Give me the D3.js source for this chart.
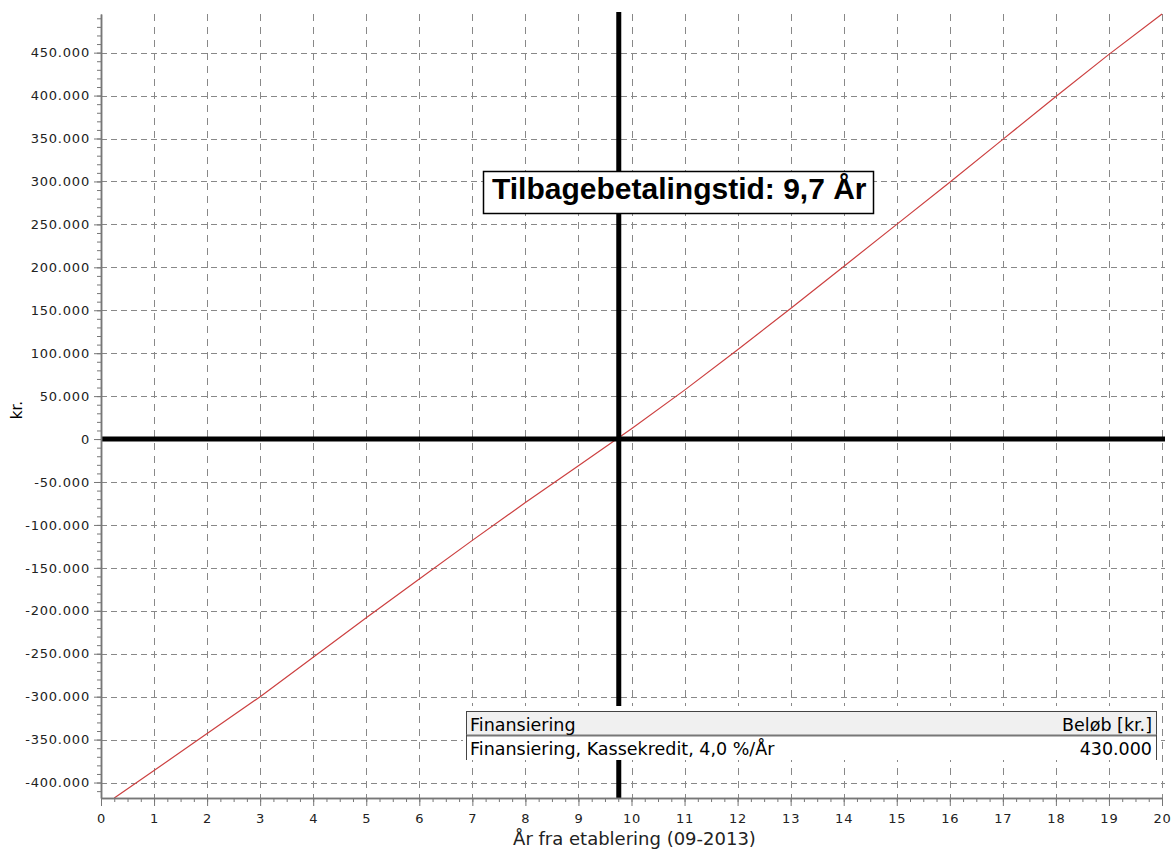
<!DOCTYPE html>
<html>
<head>
<meta charset="utf-8">
<script src="https://cdnjs.cloudflare.com/ajax/libs/d3/7.8.5/d3.min.js"></script>
<style>
body { margin: 0; background: #fff; }
</style>
</head>
<body>
<script>
// cumulative balance
var years   = [0.25, 1, 2, 3, 4, 5, 6, 7, 8, 9, 10, 11, 12, 13, 14, 15, 16, 17, 18, 19, 20];
var balance = [-418000, -386000, -343000, -300000, -254000, -208000, -163000, -118000, -74000, -31000,
               12000, 57000, 104000, 152000, 201000, 250000, 299000, 349000, 399000, 448000, 495000];
var yTicks = [-400000, -350000, -300000, -250000, -200000, -150000, -100000, -50000, 0,
              50000, 100000, 150000, 200000, 250000, 300000, 350000, 400000, 450000];
var xTicks = [0, 1, 2, 3, 4, 5, 6, 7, 8, 9, 10, 11, 12, 13, 14, 15, 16, 17, 18, 19, 20];
var paybackYear = 9.76;
var paybackLabel = "Tilbagebetalingstid: 9,7 År";
var tableHeader = ["Finansiering", "Beløb [kr.]"];
var tableRows = [["Finansiering, Kassekredit, 4,0 %/År", "430.000"]];
var xTitle = "År fra etablering (09-2013)";
var yTitle = "kr.";

var width = 1173, height = 850;
var plotLeft = 101, plotRight = 1162, plotTop = 14, plotBottom = 798;

var dk = d3.formatLocale({decimal: ",", thousands: ".", grouping: [3], currency: ["", " kr."], minus: "-"});
var fmt = dk.format(",d");

var x = d3.scaleLinear().domain([0, 20]).range([plotLeft, plotRight]);
var y = d3.scaleLinear().domain(d3.extent(balance)).range([plotBottom, plotTop]);

var body = d3.select("body");
var svg = body.append("svg")
    .attr("width", width)
    .attr("height", height);

// grid
svg.append("g").selectAll("line")
    .data(xTicks.filter(function(d) { return d > 0; }))
    .join("line")
    .attr("x1", function(d) { return Math.round(x(d)) + 0.5; })
    .attr("x2", function(d) { return Math.round(x(d)) + 0.5; })
    .attr("y1", plotTop).attr("y2", plotBottom)
    .attr("stroke", "#888").attr("stroke-dasharray", "7,6");

svg.append("g").selectAll("line")
    .data(yTicks.filter(function(d) { return d != 0; }))
    .join("line")
    .attr("y1", function(d) { return Math.round(y(d)) + 0.5; })
    .attr("y2", function(d) { return Math.round(y(d)) + 0.5; })
    .attr("x1", plotLeft).attr("x2", plotRight + 3)
    .attr("stroke", "#888").attr("stroke-dasharray", "6,4");

// series
var line = d3.line()
    .x(function(d, i) { return x(years[i]); })
    .y(function(d) { return y(d); });

svg.append("path")
    .datum(balance)
    .attr("d", line)
    .attr("fill", "none")
    .attr("stroke", "#cc4040")
    .attr("stroke-width", 1.2);

// zero line and payback line
svg.append("line")
    .attr("x1", plotLeft).attr("x2", plotRight + 3)
    .attr("y1", y(0)).attr("y2", y(0))
    .attr("stroke", "#000").attr("stroke-width", 5);

svg.append("line")
    .attr("x1", x(paybackYear)).attr("x2", x(paybackYear))
    .attr("y1", plotTop - 2).attr("y2", plotBottom)
    .attr("stroke", "#000").attr("stroke-width", 5);

// axes
svg.append("g")
    .attr("transform", "translate(" + plotLeft + ",0)")
    .call(d3.axisLeft(y).tickValues(yTicks).tickFormat(fmt).tickSize(7).tickSizeOuter(0).tickPadding(4));
svg.append("g")
    .attr("transform", "translate(" + plotLeft + ",0)")
    .call(d3.axisLeft(y).tickValues(d3.range(-410000, 495000, 10000)).tickFormat("").tickSize(4).tickSizeOuter(0));

svg.append("g")
    .attr("transform", "translate(0," + plotBottom + ")")
    .call(d3.axisBottom(x).tickValues(xTicks).tickFormat(d3.format("d")).tickSize(8).tickSizeOuter(0).tickPadding(8));
svg.append("g")
    .attr("transform", "translate(0," + plotBottom + ")")
    .call(d3.axisBottom(x).tickValues(d3.range(0, 20.01, 0.25)).tickFormat("").tickSize(4).tickSizeOuter(0));

svg.selectAll(".domain").attr("stroke", "#777").attr("stroke-width", 1.5);
svg.selectAll(".tick line").attr("stroke", "#777");
svg.selectAll(".tick text")
    .attr("font-family", "'DejaVu Sans', sans-serif")
    .attr("font-size", 13)
    .attr("letter-spacing", 0.8)
    .attr("fill", "#222");

svg.append("text")
    .attr("transform", "translate(22," + 410 + ") rotate(-90)")
    .attr("text-anchor", "middle")
    .attr("font-family", "'DejaVu Sans', sans-serif")
    .attr("font-size", 15)
    .text(yTitle);

svg.append("text")
    .attr("x", (plotLeft + plotRight) / 2 + 3).attr("y", 845)
    .attr("text-anchor", "middle")
    .attr("font-family", "'DejaVu Sans', sans-serif")
    .attr("font-size", 18)
    .attr("fill", "#222")
    .text(xTitle);

// payback annotation
var note = svg.append("g");
note.append("rect")
    .attr("x", 483.5).attr("y", 171.5)
    .attr("width", 390).attr("height", 42)
    .attr("fill", "#fff").attr("stroke", "#000").attr("stroke-width", 1.5);
note.append("text")
    .attr("x", 492).attr("y", 199)
    .attr("font-family", "'Liberation Sans', Arial, sans-serif")
    .attr("font-size", 30)
    .attr("font-weight", "bold")
    .text(paybackLabel);

// financing table
svg.append("clipPath").attr("id", "tclip")
    .append("rect").attr("x", 460).attr("y", 700).attr("width", 710).attr("height", 60);

var table = svg.append("g").attr("clip-path", "url(#tclip)");
table.append("rect")
    .attr("x", 463).attr("y", 706).attr("width", 697).attr("height", 54)
    .attr("fill", "#fff");
table.append("rect")
    .attr("x", 466.5).attr("y", 711.5).attr("width", 690).attr("height", 24)
    .attr("fill", "#f0f0f0").attr("stroke", "#444");
table.append("line")
    .attr("x1", 466).attr("x2", 1157).attr("y1", 735.5).attr("y2", 735.5)
    .attr("stroke", "#777").attr("stroke-width", 2);
table.append("line")
    .attr("x1", 466.5).attr("x2", 466.5).attr("y1", 735).attr("y2", 760)
    .attr("stroke", "#444");
table.append("line")
    .attr("x1", 1156.5).attr("x2", 1156.5).attr("y1", 735).attr("y2", 760)
    .attr("stroke", "#444");

var rows = [tableHeader].concat(tableRows);
table.selectAll("text.left")
    .data(rows)
    .join("text")
    .attr("class", "left")
    .attr("x", 470)
    .attr("y", function(d, i) { return 731 + i * 24; })
    .attr("font-family", "'DejaVu Sans', sans-serif")
    .attr("font-size", 17.5)
    .text(function(d) { return d[0]; });
table.selectAll("text.right")
    .data(rows)
    .join("text")
    .attr("class", "right")
    .attr("x", 1152)
    .attr("y", function(d, i) { return 731 + i * 24; })
    .attr("text-anchor", "end")
    .attr("font-family", "'DejaVu Sans', sans-serif")
    .attr("font-size", 17.5)
    .text(function(d) { return d[1]; });
</script>
</body>
</html>
